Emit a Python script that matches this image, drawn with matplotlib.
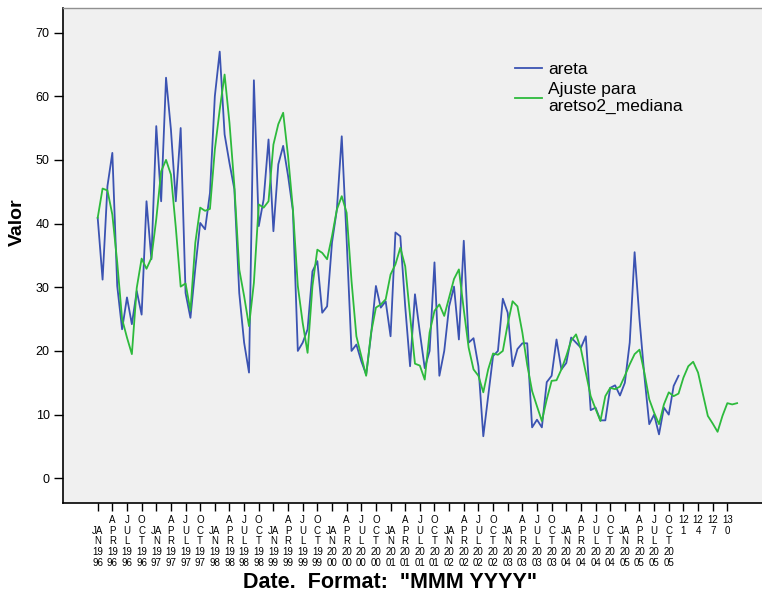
import matplotlib
matplotlib.use("Agg")
import matplotlib.pyplot as plt
from matplotlib.lines import Line2D

plt.rcParams['font.family'] = ['Liberation Sans', 'DejaVu Sans']

# Observed series "areta", monthly from JAN 1996 (obs 1) to DEC 2005 (obs 120)
areta = [
    40.9, 31.2, 45.9, 51.1, 30.2, 23.4, 28.4, 24.2, 29.4, 25.7, 43.5, 34.4,
    55.3, 43.5, 62.9, 54.8, 43.5, 55.0, 29.1, 25.2, 33.0, 40.1, 39.1, 44.8,
    60.0, 67.0, 54.0, 49.5, 45.4, 29.1, 21.3, 16.6, 62.5, 39.6, 43.8, 53.2,
    38.8, 49.3, 52.2, 47.5, 42.0, 20.0, 21.3, 23.4, 32.5, 34.1, 26.0, 27.0,
    37.0, 42.2, 53.7, 37.5, 20.0, 21.0, 18.4, 16.3, 22.5, 30.2, 26.8, 27.8,
    22.3, 38.6, 38.0, 27.0, 17.6, 28.9, 22.9, 17.3, 20.0, 33.9, 16.1, 20.0,
    27.0, 30.1, 21.8, 37.3, 21.3, 22.0, 17.6, 6.6, 12.9, 19.2, 20.0, 28.2,
    26.0, 17.6, 20.3, 21.2, 21.2, 8.0, 9.2, 8.0, 15.1, 16.1, 21.8, 17.1,
    18.1, 22.1, 21.3, 20.5, 22.3, 10.7, 11.1, 9.1, 9.1, 14.2, 14.6, 13.0,
    15.0, 21.3, 35.5, 25.0, 16.1, 8.5, 10.0, 6.9, 11.1, 10.0, 14.5, 16.1,
]

# Fitted values for aretso2_mediana, including the 12-month forecast (obs 1..132)
ajuste = [
    40.9, 45.5, 45.2, 41.4, 33.9, 25.0, 22.1, 19.5, 29.9, 34.5, 32.9, 34.6,
    40.7, 48.2, 50.0, 47.7, 39.4, 30.1, 30.6, 26.3, 37.0, 42.5, 42.0, 42.3,
    51.6, 57.9, 63.4, 55.8, 45.9, 32.8, 28.6, 23.9, 30.7, 43.0, 42.5, 43.5,
    52.4, 55.6, 57.4, 50.6, 42.2, 30.2, 24.4, 19.7, 30.2, 35.9, 35.4, 34.4,
    38.0, 42.2, 44.3, 41.7, 31.0, 22.3, 19.2, 16.1, 22.8, 26.8, 27.3, 28.1,
    32.0, 33.6, 36.2, 33.3, 25.5, 18.0, 17.7, 15.5, 22.9, 26.3, 27.3, 25.5,
    28.4, 31.3, 32.8, 26.5, 20.5, 17.1, 16.1, 13.5, 17.1, 19.6, 19.4, 20.0,
    24.2, 27.8, 27.0, 22.9, 17.8, 13.7, 11.3, 9.0, 12.4, 15.3, 15.4, 17.1,
    19.2, 21.6, 22.6, 20.3, 16.6, 12.9, 10.9, 9.0, 12.9, 14.2, 14.0, 14.4,
    16.1, 17.9, 19.5, 20.2, 16.6, 12.4, 10.3, 8.5, 11.6, 13.5, 12.9, 13.3,
    15.8, 17.6, 18.3, 16.6, 13.2, 9.8, 8.6, 7.3, 9.8, 11.8, 11.6, 11.8,
]

# Tick labels: quarterly dates, then plain observation numbers past the data
month_names = ["JAN", "APR", "JUL", "OCT"]
years = list(range(1996, 2006))
extra_obs = [121, 124, 127, 130]

month_wrap = {"JAN": ["JA", "N"], "APR": ["A", "P", "R"],
              "JUL": ["J", "U", "L"], "OCT": ["O", "C", "T"]}

tick_pos = []
tick_lab = []
for yi, yr in enumerate(years):
    for mi, mn in enumerate(month_names):
        obs = yi * 12 + mi * 3 + 1
        rows = month_wrap[mn] + [str(yr)[:2], str(yr)[2:]]
        if len(rows) < 5:
            rows = [" "] + rows
        tick_pos.append(obs)
        tick_lab.append("\n".join(rows))
for n in extra_obs:
    s = str(n)
    tick_pos.append(n)
    tick_lab.append(s[:2] + "\n" + s[2:])

W, H = 762, 593
fig = plt.figure(figsize=(W / 100, H / 100), dpi=100)
ax_l, ax_r, ax_t, ax_b = 62.7, 762.0, 8.3, 502.7
ax = fig.add_axes([ax_l / W, 1 - ax_b / H, (ax_r - ax_l) / W, (ax_b - ax_t) / H])
ax.set_facecolor("#f0f0f0")

blue = "#3b53b2"
green = "#2dba3c"
x_a = list(range(1, len(areta) + 1))
x_f = list(range(1, len(ajuste) + 1))
ax.plot(x_a, areta, color=blue, lw=1.3, zorder=3)
ax.plot(x_f, ajuste, color=green, lw=1.3, zorder=4)

ax.set_xlim(-6.17, 137.1)
ax.set_ylim(-3.83, 73.8)

ax.set_yticks(range(0, 71, 10))
ax.tick_params(axis="y", direction="out", length=6.3, width=1.0,
               labelsize=9, pad=3, colors="black")
ax.set_xticks(tick_pos)
ax.set_xticklabels(tick_lab, fontsize=7, linespacing=1.08)
ax.tick_params(axis="x", direction="out", length=5.5, width=1.0, pad=3.5)

for side in ("left", "bottom"):
    ax.spines[side].set_color("black")
    ax.spines[side].set_linewidth(1.2)
ax.spines["top"].set_color("#909090")
ax.spines["top"].set_linewidth(1.0)
ax.spines["right"].set_visible(False)

handles = [Line2D([], [], color=blue, lw=1.3),
           Line2D([], [], color=green, lw=1.3)]
ax.legend(handles, ["areta", "Ajuste para\naretso2_mediana"],
          loc="upper left", bbox_to_anchor=(0.6468, 0.892),
          frameon=False, fontsize=12.5, handlelength=1.55,
          handletextpad=0.35, labelspacing=0.27, borderpad=0,
          borderaxespad=0)

fig.text(17 / W, 1 - 222 / H, "Valor", rotation=90, fontsize=14,
         fontweight="bold", ha="center", va="center")
fig.text(390 / W, 1 - 583 / H, 'Date.  Format:  "MMM YYYY"', fontsize=15.5,
         fontweight="bold", ha="center", va="center")

fig.savefig("out.png", dpi=100, facecolor="white")
